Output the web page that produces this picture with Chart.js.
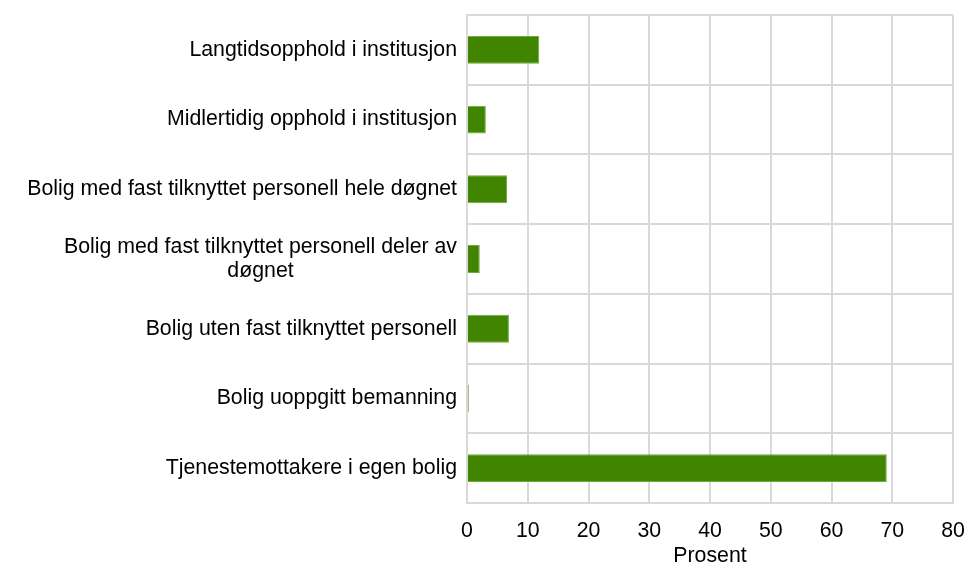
<!DOCTYPE html>
<html>
<head>
<meta charset="utf-8">
<script src="https://cdn.jsdelivr.net/npm/chart.js@4/dist/chart.umd.min.js"></script>
<style>
html,body{margin:0;padding:0;background:#fff;}
#wrap{width:966px;height:563px;}
</style>
</head>
<body>
<div id="wrap"><canvas id="c"></canvas></div>
<script>
const categories = [
  "Langtidsopphold i institusjon",
  "Midlertidig opphold i institusjon",
  "Bolig med fast tilknyttet personell hele døgnet",
  ["Bolig med fast tilknyttet personell deler av", "døgnet"],
  "Bolig uten fast tilknyttet personell",
  "Bolig uoppgitt bemanning",
  "Tjenestemottakere i egen bolig"
];
const values = [11.9, 3.1, 6.6, 2.1, 6.9, 0.3, 69.1];
const xTicks = [0, 10, 20, 30, 40, 50, 60, 70, 80];
const xTitle = "Prosent";

const FONT = "'Liberation Sans', Arial, sans-serif";
const FS = 21.3;

const labelPlugin = {
  id: 'yLabels',
  afterDraw(chart) {
    const scale = chart.scales.y;
    const ctx = chart.ctx;
    ctx.save();
    ctx.font = FS + "px " + FONT;
    ctx.fillStyle = "#000";
    ctx.textBaseline = "middle";
    ctx.textAlign = "center";
    const right = scale.right - 10;
    const lh = 24;
    categories.forEach((lab, i) => {
      const lines = Array.isArray(lab) ? lab : [lab];
      const maxW = Math.max(...lines.map(l => ctx.measureText(l).width));
      const cx = right - maxW / 2;
      const y0 = scale.getPixelForTick(i) - (lines.length - 1) * lh / 2;
      lines.forEach((l, j) => ctx.fillText(l, cx, y0 + j * lh));
    });
    ctx.restore();
  }
};

new Chart(document.getElementById('c'), {
  type: 'bar',
  data: {
    labels: categories,
    datasets: [{
      data: values,
      backgroundColor: '#408400',
      borderColor: '#6cab3c',
      borderWidth: 1,
      barPercentage: 0.8,
      categoryPercentage: 0.5
    }]
  },
  options: {
    indexAxis: 'y',
    responsive: true,
    maintainAspectRatio: false,
    animation: false,
    layout: { padding: { top: 15, right: 13, left: 0, bottom: 0 } },
    plugins: { legend: { display: false }, tooltip: { enabled: false } },
    scales: {
      x: {
        min: 0, max: 80,
        afterBuildTicks(scale) { scale.ticks = xTicks.map(v => ({ value: v })); },
        grid: { color: '#d9d9d9', lineWidth: 2, drawTicks: false },
        border: { color: '#d9d9d9', width: 2 },
        ticks: { font: { size: FS, family: FONT }, color: '#000', padding: 15 },
        title: { display: true, text: xTitle, font: { size: FS, family: FONT }, color: '#000', padding: { top: 0, bottom: -6 } },
        afterFit(scale) { scale.height = 60; scale.paddingRight = 0; scale.paddingLeft = 0; }
      },
      y: {
        grid: { color: '#d9d9d9', lineWidth: 2, drawTicks: false, offset: true },
        border: { color: '#d9d9d9', width: 2 },
        ticks: { display: true, color: 'rgba(0,0,0,0)', font: { size: FS, family: FONT }, callback: () => '' },
        afterFit(scale) { scale.width = 467; scale.paddingTop = 0; scale.paddingBottom = 0; }
      }
    }
  },
  plugins: [labelPlugin]
});
</script>
</body>
</html>
